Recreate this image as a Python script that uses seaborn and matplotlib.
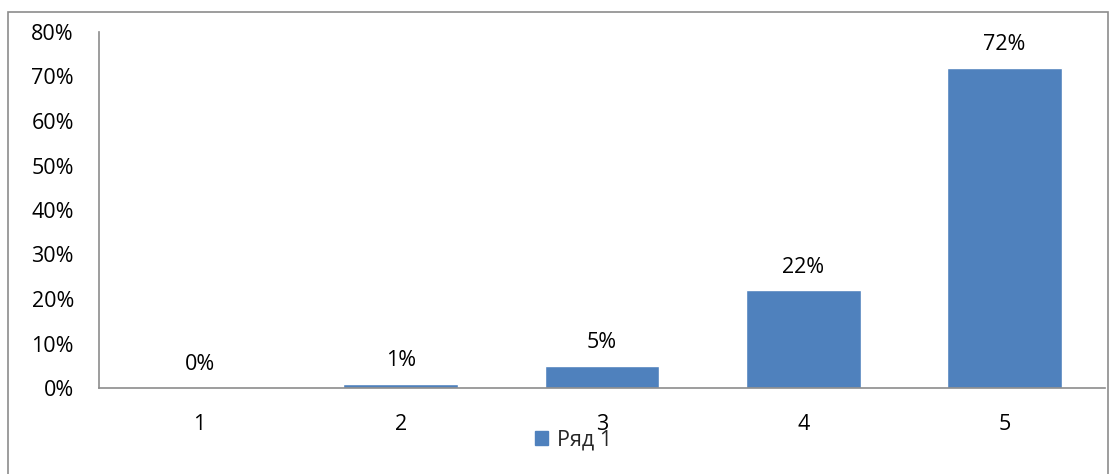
import matplotlib
matplotlib.use("Agg")
import matplotlib.pyplot as plt
import seaborn as sns
import pandas as pd
from matplotlib.patches import Rectangle
from matplotlib.ticker import PercentFormatter

categories = ["1", "2", "3", "4", "5"]
values = [0.0, 1.0, 5.0, 22.0, 72.0]
series_name = "Ряд 1"
y_ticks = [0, 10, 20, 30, 40, 50, 60, 70, 80]

df = pd.DataFrame({"cat": categories, "val": values, "series": series_name})

sns.set_theme(style="white")
plt.rcParams["font.family"] = ["Open Sans", "DejaVu Sans"]

fig = plt.figure(figsize=(11.16, 4.74), dpi=100)
ax = fig.add_axes([99 / 1116, 86 / 474, 1006 / 1116, 356 / 474])

sns.barplot(data=df, x="cat", y="val", hue="series", palette=["#4F81BD"],
            saturation=1, width=0.57, ax=ax, legend=False)

for c in ax.containers:
    ax.bar_label(c, labels=[f"{v:.0f}%" for v in values], padding=9,
                 fontsize=15.5, color="black")

ax.set_ylim(0, 80)
ax.set_yticks(y_ticks)
ax.yaxis.set_major_formatter(PercentFormatter(decimals=0))
ax.tick_params(axis="both", length=0, labelsize=15.5, colors="black")
ax.tick_params(axis="y", pad=18)
ax.tick_params(axis="x", pad=19)
ax.set_xlabel("")
ax.set_ylabel("")
for side in ["top", "right"]:
    ax.spines[side].set_visible(False)
for side in ["left", "bottom"]:
    ax.spines[side].set_color("#8c8c8c")
    ax.spines[side].set_linewidth(1.2)

handle = Rectangle((0, 0), 1, 1, color="#4F81BD")
fig.legend([handle], [series_name], loc="center", bbox_to_anchor=(0.514, 0.072),
           frameon=False, fontsize=15.5, handlelength=0.6, handleheight=0.6,
           handletextpad=0.4)

fig.patches.append(Rectangle((8 / 1116, -0.01), 1100 / 1116, 1 - 12 / 474 + 0.01,
                             transform=fig.transFigure, fill=False,
                             edgecolor="#8c8c8c", linewidth=1.2))

fig.savefig("out.png", dpi=100)
plt.close(fig)
